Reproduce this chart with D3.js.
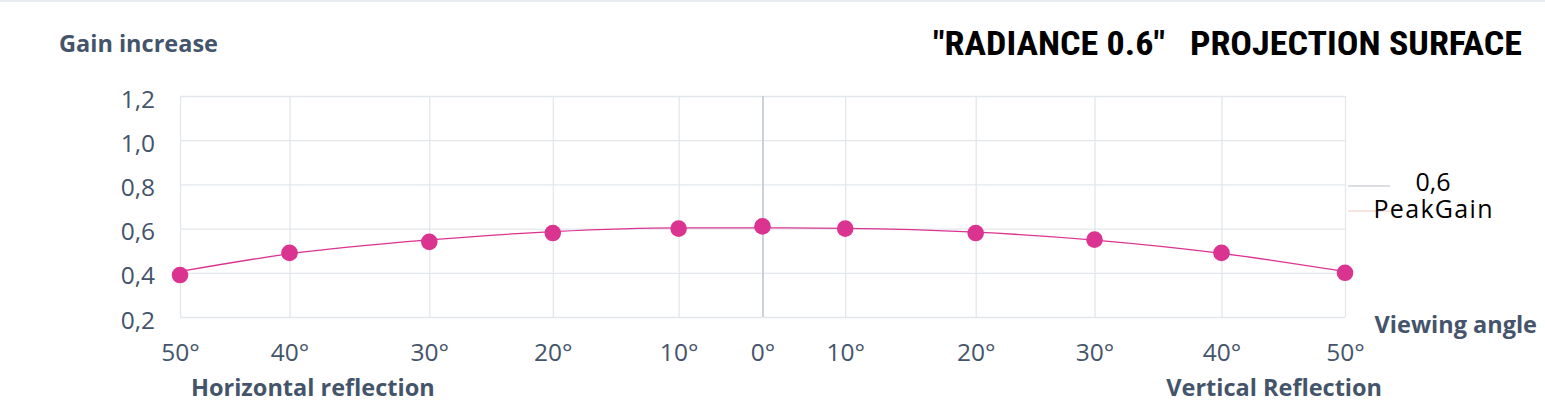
<!DOCTYPE html>
<html>
<head>
<meta charset="utf-8">
<script src="https://cdn.jsdelivr.net/npm/d3@7"></script>
<style>
  html, body { margin: 0; padding: 0; background: #ffffff; }
  svg { display: block; }
</style>
</head>
<body>
<svg id="chart" width="1545" height="409"></svg>
<script>
// ---- data ----
const categories = ["50°","40°","30°","20°","10°","0°","10°","20°","30°","40°","50°"];
// where each angle sits along the horizontal axis (0 = left edge, 100 = right edge)
const axisPositions = [0, 9.4, 21.4, 32.0, 42.8, 50, 57.1, 68.3, 78.5, 89.4, 100];
const gainValues  = [0.39, 0.49, 0.54, 0.58, 0.60, 0.61, 0.60, 0.58, 0.55, 0.49, 0.40];
const trendValues = [0.406, 0.486, 0.549, 0.586, 0.603, 0.603, 0.601, 0.584, 0.548, 0.488, 0.406];
const yTicks = [0.2, 0.4, 0.6, 0.8, 1.0, 1.2];
const centerPosition = 50;
const titleText = "\"RADIANCE 0.6\"   PROJECTION SURFACE";
const yTitle = "Gain increase";
const xTitle = "Viewing angle";
const leftLabel = "Horizontal reflection";
const rightLabel = "Vertical Reflection";
const peakGainValue = "0,6";
const peakGainLabel = "PeakGain";

// ---- layout ----
const svg = d3.select("#chart");
const font = "'Open Sans', 'Noto Sans', sans-serif";
const textColor = "#44546a";
const gridColor = "#e3e7ec";
const pink = "#db3390";

const x = d3.scaleLinear().domain([0, 100]).range([180, 1345]);
const y = d3.scaleLinear().domain([0.2, 1.2]).range([317, 96]);

// top border line
svg.append("line").attr("x1", 0).attr("x2", 1545).attr("y1", 1).attr("y2", 1)
  .attr("stroke", "#e8ebef").attr("stroke-width", 2);

// horizontal grid
const yAxis = d3.axisLeft(y).tickValues(yTicks)
  .tickFormat(d => d3.format(".1f")(d).replace(".", ","))
  .tickSize(-(x.range()[1] - x.range()[0])).tickPadding(25);
const gy = svg.append("g").attr("transform", `translate(${x.range()[0]},0)`).call(yAxis);
gy.select(".domain").remove();
gy.selectAll(".tick line").attr("stroke", gridColor).attr("stroke-width", 1.3);
gy.selectAll(".tick text").attr("fill", textColor).attr("font-family", font)
  .attr("font-size", 24.5).attr("dy", "0.45em");

// vertical grid + category labels
const xAxis = d3.axisBottom(x).tickValues(axisPositions)
  .tickFormat((d, i) => categories[i])
  .tickSize(-(y.range()[0] - y.range()[1])).tickPadding(27);
const gx = svg.append("g").attr("transform", `translate(0,${y.range()[0]})`).call(xAxis);
gx.select(".domain").remove();
gx.selectAll(".tick line")
  .attr("stroke", d => d === centerPosition ? "#c6cdd6" : gridColor)
  .attr("stroke-width", d => d === centerPosition ? 1.8 : 1.3);
gx.selectAll(".tick text").attr("fill", textColor).attr("font-family", font)
  .attr("font-size", 24.5);

// smooth trend line
const line = d3.line()
  .x((d, i) => x(axisPositions[i]))
  .y(d => y(d))
  .curve(d3.curveMonotoneX);
svg.append("path").datum(trendValues).attr("d", line)
  .attr("fill", "none").attr("stroke", pink).attr("stroke-width", 1.3);

// markers
svg.append("g").selectAll("circle").data(gainValues).join("circle")
  .attr("cx", (d, i) => x(axisPositions[i]))
  .attr("cy", d => y(d))
  .attr("r", 8.3)
  .attr("fill", pink);

// titles
svg.append("text").attr("x", 59).attr("y", 52).text(yTitle)
  .attr("font-family", font).attr("font-weight", "bold").attr("font-size", 23.5)
  .attr("fill", textColor);

svg.append("text").attr("x", 933).attr("y", 55).text(titleText)
  .attr("font-family", "'Liberation Sans Narrow', 'Roboto Condensed', 'Liberation Sans', sans-serif")
  .attr("font-weight", "bold").attr("font-size", 34).attr("fill", "#000")
  .attr("textLength", 589).attr("lengthAdjust", "spacingAndGlyphs")
  .style("white-space", "pre");

svg.append("text").attr("x", 1537).attr("y", 333).attr("text-anchor", "end").text(xTitle)
  .attr("font-family", font).attr("font-weight", "bold").attr("font-size", 23.5)
  .attr("fill", textColor);

svg.append("text").attr("x", 191).attr("y", 396).text(leftLabel)
  .attr("font-family", font).attr("font-weight", "bold").attr("font-size", 23.5)
  .attr("fill", textColor);

svg.append("text").attr("x", 1382).attr("y", 396).attr("text-anchor", "end").text(rightLabel)
  .attr("font-family", font).attr("font-weight", "bold").attr("font-size", 23.5)
  .attr("fill", textColor);

// peak gain annotation
svg.append("line").attr("x1", 1348).attr("x2", 1390).attr("y1", 186).attr("y2", 186)
  .attr("stroke", "#b8bcc2").attr("stroke-width", 1);
svg.append("line").attr("x1", 1348).attr("x2", 1390).attr("y1", 211).attr("y2", 211)
  .attr("stroke", "#f0c8c0").attr("stroke-width", 1);
svg.append("text").attr("x", 1433).attr("y", 191).attr("text-anchor", "middle").text(peakGainValue)
  .attr("font-family", font).attr("font-size", 25).attr("fill", "#000");
svg.append("text").attr("x", 1433).attr("y", 218).attr("text-anchor", "middle").text(peakGainLabel)
  .attr("font-family", font).attr("font-size", 25).attr("fill", "#000")
  .attr("textLength", 119).attr("lengthAdjust", "spacing");
</script>
</body>
</html>
